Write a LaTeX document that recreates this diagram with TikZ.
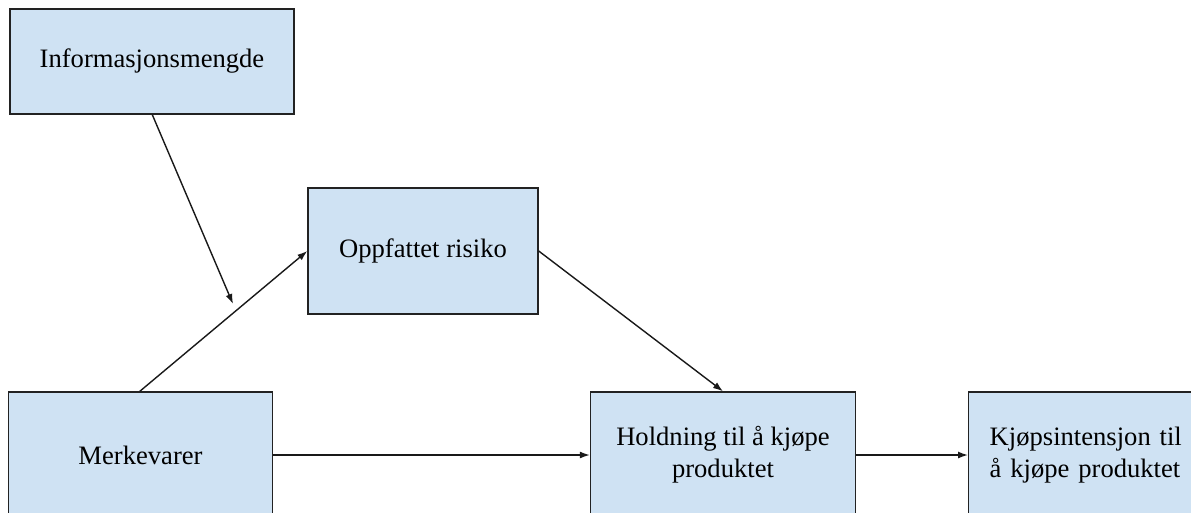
\documentclass[tikz,border=0pt]{standalone}
\usepackage{fontspec}
\setmainfont{Liberation Serif}
\usetikzlibrary{arrows.meta}
\definecolor{boxfill}{HTML}{CFE2F3}
\definecolor{boxline}{HTML}{222222}
\begin{document}
\begin{tikzpicture}[x=1pt,y=-1pt,
  box/.style={draw=boxline,fill=boxfill,line width=1.4pt,inner sep=0pt,align=center,
    font=\fontsize{26.6}{32}\selectfont},
  conn/.style={line width=1.4pt,draw=black!90,-{Latex[length=10pt,width=7pt]}}]
\useasboundingbox (0,0) rectangle (1191,512);
\clip (0,0) rectangle (1191,512);
\fill[white] (0,0) rectangle (1191,512);
\node[box,minimum width=284pt,minimum height=105pt] (info) at (152,61.5) {Informasjonsmengde};
\node[box,minimum width=230pt,minimum height=126pt] (risk) at (423,251) {Oppfattet risiko};
\node[box,minimum width=264pt,minimum height=126pt] (merk) at (140.5,455) {Merkevarer};
\node[box,minimum width=265pt,minimum height=126pt] (hold) at (723,455) {Holdning til å kjøpe\\produktet};
\node[box,text width=200pt,align=left,inner xsep=21pt,minimum height=126pt,anchor=west] (kjop) at (968,455) {Kjøpsintensjon til\\å kjøpe produktet};
\coordinate (mid) at (233,304);
\draw[conn] (info.south west) ++(143,0) coordinate (infostart) -- (mid);
\draw[conn] (merk.north west) ++(132,0) -- (risk.west);
\draw[conn] (risk.east) -- (hold.north);
\draw[conn] (merk.east) -- (hold.west);
\draw[conn] (hold.east) -- (kjop.west);
\end{tikzpicture}
\end{document}
